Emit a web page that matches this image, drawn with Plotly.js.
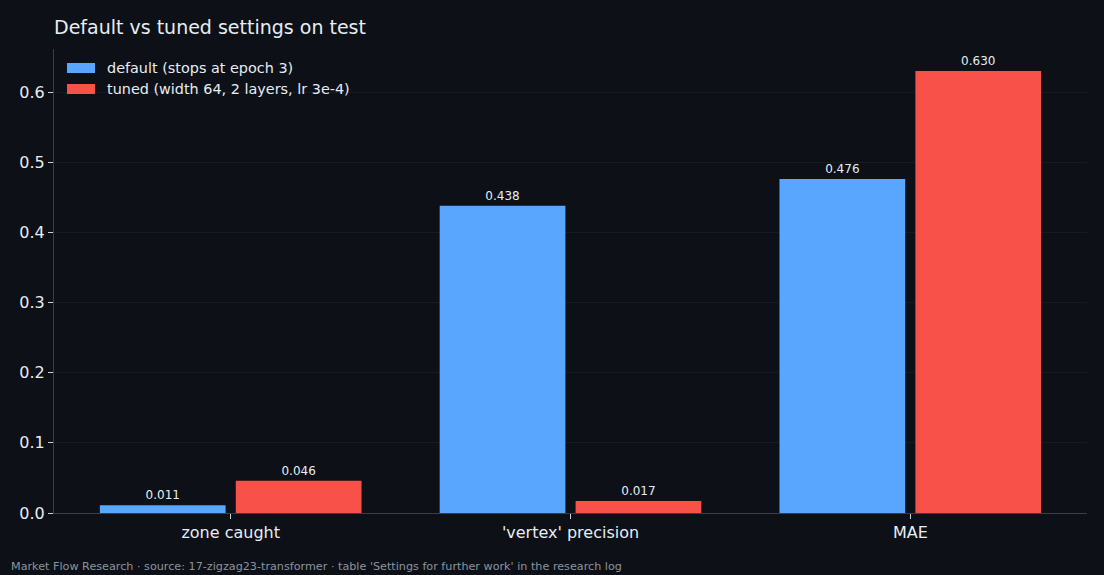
<!DOCTYPE html>
<html>
<head>
<meta charset="utf-8">
<script src="https://cdn.plot.ly/plotly-3.0.1.min.js"></script>
<style>
  html, body { margin: 0; padding: 0; background: #0d1017; }
  #chart { width: 1104px; height: 575px; }
</style>
</head>
<body>
<div id="chart"></div>
<script>
const categories = ['zone caught', "'vertex' precision", 'MAE'];
const defaultValues = [0.011, 0.438, 0.476];
const tunedValues = [0.046, 0.017, 0.630];
const seriesNames = ['default (stops at epoch 3)', 'tuned (width 64, 2 layers, lr 3e-4)'];
const seriesColors = ['#58a6ff', '#f85149'];

const BG = '#0d1017';
const TEXT = '#e6edf3';
const AXIS = '#3a3f47';
const GRID = '#161b22';

// plot area in pixels, used for placing the hand drawn legend
const PLOT_W = 1033, PLOT_H = 464;

function barTrace(name, values, color) {
    return {
        type: 'bar',
        name: name,
        x: categories,
        y: values,
        marker: { color: color },
        texttemplate: '%{y:.3f}',
        textposition: 'outside',
        textfont: { color: TEXT, size: 12 },
        cliponaxis: false,
        hoverinfo: 'skip'
    };
}

const data = [
    barTrace(seriesNames[0], defaultValues, seriesColors[0]),
    barTrace(seriesNames[1], tunedValues, seriesColors[1])
];

// matplotlib-style legend: wide swatch + label, top-left inside the axes
const legendShapes = [];
const legendLabels = [];
seriesNames.forEach((name, i) => {
    const cy = 19 + i * 21; // px below plot top
    legendShapes.push({
        type: 'rect', xref: 'paper', yref: 'paper', layer: 'above',
        x0: 13 / PLOT_W, x1: 41 / PLOT_W,
        y0: 1 - (cy + 5) / PLOT_H, y1: 1 - (cy - 5) / PLOT_H,
        fillcolor: seriesColors[i], line: { width: 0 }
    });
    legendLabels.push({
        text: name, xref: 'paper', yref: 'paper',
        x: 51 / PLOT_W, y: 1 - cy / PLOT_H,
        xanchor: 'left', yanchor: 'middle', showarrow: false,
        font: { size: 14.4, color: TEXT }
    });
});

const layout = {
    width: 1104,
    height: 575,
    paper_bgcolor: BG,
    plot_bgcolor: BG,
    font: { family: 'DejaVu Sans, sans-serif', color: TEXT },
    margin: { l: 54, r: 17, t: 49, b: 62 },
    title: {
        text: 'Default vs tuned settings on test',
        x: 54 / 1104, xanchor: 'left',
        y: 1 - 27 / 575, yanchor: 'middle',
        font: { size: 19, color: TEXT }
    },
    barmode: 'group',
    bargap: 0.2,
    bargroupgap: 0.075,
    showlegend: false,
    xaxis: {
        range: [-0.52, 2.52],
        showline: true, linecolor: AXIS, linewidth: 1,
        ticks: 'outside', ticklen: 5, tickcolor: '#c9d1d9',
        tickfont: { size: 16, color: TEXT },
        showgrid: false, zeroline: false
    },
    yaxis: {
        range: [0, 0.6615],
        dtick: 0.1, tickformat: '.1f',
        showline: true, linecolor: AXIS, linewidth: 1,
        ticks: 'outside', ticklen: 5, tickcolor: '#c9d1d9',
        tickfont: { size: 16, color: TEXT },
        showgrid: true, gridcolor: GRID, gridwidth: 1,
        zeroline: false
    },
    shapes: legendShapes,
    annotations: legendLabels.concat([{
        text: "Market Flow Research · source: 17-zigzag23-transformer · table 'Settings for further work' in the research log",
        xref: 'paper', yref: 'paper',
        x: -45 / PLOT_W, y: -53 / PLOT_H,
        xanchor: 'left', yanchor: 'middle',
        showarrow: false,
        font: { size: 11.2, color: '#8b949e' }
    }])
};

Plotly.newPlot('chart', data, layout, { displayModeBar: false, staticPlot: true });
</script>
</body>
</html>
